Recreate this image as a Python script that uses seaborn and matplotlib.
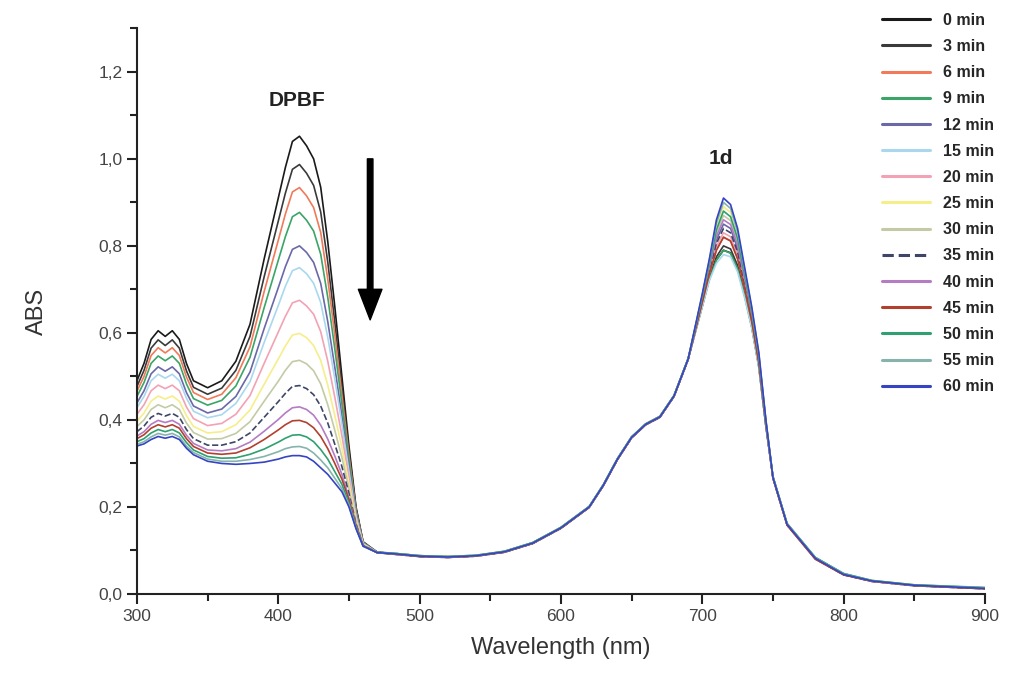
import matplotlib
matplotlib.use('Agg')
import matplotlib.pyplot as plt
from matplotlib.ticker import MultipleLocator, FuncFormatter
import seaborn as sns
import pandas as pd

# wavelength grid (nm), denser around the two bands
wavelength = [300, 305, 310, 315, 320, 325, 330, 335, 340, 350, 360, 370, 380, 390, 400,
              405, 410, 415, 420, 425, 430, 435, 440, 445, 450, 455, 460, 470,
              480, 500, 520, 540, 560, 580, 600, 620, 630, 640, 650, 660, 670, 680, 690,
              700, 705, 710, 715, 720, 725, 730, 735, 740, 745,
              750, 760, 780, 800, 820, 850, 900]

# absorbance, one list per irradiation time
abs_0min = [0.49, 0.53, 0.585, 0.605, 0.592, 0.605, 0.585, 0.53, 0.49, 0.474, 0.49, 0.535, 0.62, 0.77, 0.91,
            0.98, 1.04, 1.052, 1.03, 1.0, 0.935, 0.81, 0.66, 0.5, 0.34, 0.2, 0.12, 0.096,
            0.093, 0.087, 0.085, 0.088, 0.097, 0.117, 0.152, 0.2, 0.25, 0.31, 0.36, 0.39, 0.407, 0.455, 0.54,
            0.662, 0.724, 0.768, 0.79, 0.784, 0.748, 0.685, 0.614, 0.523, 0.386,
            0.268, 0.16, 0.082, 0.045, 0.03, 0.02, 0.013]
abs_3min = [0.477, 0.514, 0.565, 0.584, 0.571, 0.584, 0.565, 0.513, 0.475, 0.459, 0.473, 0.514, 0.592, 0.729, 0.857,
            0.921, 0.976, 0.987, 0.967, 0.939, 0.878, 0.763, 0.624, 0.477, 0.328, 0.196, 0.119, 0.096,
            0.094, 0.088, 0.086, 0.088, 0.098, 0.118, 0.153, 0.201, 0.251, 0.311, 0.361, 0.391, 0.408, 0.456, 0.541,
            0.665, 0.728, 0.775, 0.80, 0.793, 0.755, 0.691, 0.618, 0.525, 0.387,
            0.268, 0.16, 0.082, 0.045, 0.03, 0.02, 0.013]
abs_6min = [0.466, 0.5, 0.548, 0.566, 0.554, 0.566, 0.548, 0.499, 0.463, 0.447, 0.459, 0.497, 0.568, 0.695, 0.813,
            0.873, 0.924, 0.934, 0.915, 0.888, 0.831, 0.724, 0.595, 0.457, 0.317, 0.192, 0.118, 0.096,
            0.093, 0.086, 0.084, 0.087, 0.096, 0.116, 0.151, 0.199, 0.249, 0.309, 0.359, 0.389, 0.406, 0.454, 0.539,
            0.669, 0.735, 0.791, 0.82, 0.812, 0.771, 0.702, 0.625, 0.531, 0.39,
            0.266, 0.158, 0.08, 0.044, 0.029, 0.019, 0.012]
abs_9min = [0.454, 0.486, 0.53, 0.547, 0.536, 0.547, 0.53, 0.483, 0.449, 0.434, 0.445, 0.478, 0.544, 0.658, 0.767,
            0.821, 0.867, 0.877, 0.859, 0.834, 0.781, 0.682, 0.563, 0.437, 0.307, 0.188, 0.118, 0.096,
            0.094, 0.088, 0.086, 0.089, 0.098, 0.118, 0.153, 0.201, 0.251, 0.311, 0.361, 0.391, 0.408, 0.456, 0.541,
            0.661, 0.723, 0.767, 0.79, 0.783, 0.747, 0.686, 0.613, 0.522, 0.386,
            0.27, 0.162, 0.084, 0.047, 0.031, 0.021, 0.014]
abs_12min = [0.439, 0.467, 0.506, 0.522, 0.512, 0.522, 0.506, 0.463, 0.432, 0.416, 0.425, 0.454, 0.51, 0.61, 0.704,
             0.752, 0.792, 0.8, 0.785, 0.762, 0.714, 0.626, 0.521, 0.409, 0.292, 0.183, 0.117, 0.096,
             0.093, 0.087, 0.085, 0.088, 0.097, 0.117, 0.152, 0.2, 0.25, 0.31, 0.36, 0.39, 0.407, 0.455, 0.54,
             0.676, 0.747, 0.814, 0.85, 0.84, 0.794, 0.718, 0.637, 0.539, 0.393,
             0.268, 0.16, 0.082, 0.045, 0.03, 0.02, 0.013]
abs_15min = [0.428, 0.454, 0.49, 0.505, 0.496, 0.505, 0.49, 0.45, 0.42, 0.405, 0.412, 0.438, 0.488, 0.578, 0.663,
             0.707, 0.743, 0.75, 0.736, 0.714, 0.67, 0.59, 0.494, 0.391, 0.282, 0.179, 0.116, 0.095,
             0.092, 0.086, 0.084, 0.087, 0.096, 0.116, 0.151, 0.199, 0.249, 0.309, 0.359, 0.389, 0.406, 0.454, 0.539,
             0.66, 0.72, 0.76, 0.78, 0.775, 0.74, 0.68, 0.61, 0.52, 0.385,
             0.267, 0.159, 0.081, 0.044, 0.029, 0.019, 0.012]
abs_20min = [0.413, 0.435, 0.467, 0.48, 0.472, 0.48, 0.467, 0.43, 0.403, 0.387, 0.392, 0.413, 0.456, 0.53, 0.602,
             0.638, 0.669, 0.675, 0.662, 0.643, 0.603, 0.535, 0.452, 0.364, 0.268, 0.174, 0.115, 0.095,
             0.093, 0.087, 0.085, 0.088, 0.097, 0.117, 0.152, 0.2, 0.25, 0.31, 0.36, 0.39, 0.407, 0.455, 0.54,
             0.672, 0.739, 0.799, 0.83, 0.821, 0.779, 0.707, 0.629, 0.533, 0.391,
             0.268, 0.16, 0.082, 0.045, 0.03, 0.02, 0.013]
abs_25min = [0.397, 0.416, 0.443, 0.455, 0.448, 0.455, 0.443, 0.41, 0.385, 0.37, 0.373, 0.389, 0.423, 0.482, 0.54,
             0.57, 0.595, 0.599, 0.589, 0.571, 0.537, 0.48, 0.41, 0.336, 0.254, 0.169, 0.114, 0.095,
             0.094, 0.088, 0.086, 0.089, 0.098, 0.118, 0.153, 0.201, 0.251, 0.311, 0.361, 0.391, 0.408, 0.456, 0.541,
             0.685, 0.762, 0.845, 0.89, 0.877, 0.825, 0.739, 0.652, 0.55, 0.398,
             0.269, 0.161, 0.083, 0.046, 0.031, 0.021, 0.014]
abs_30min = [0.385, 0.4, 0.424, 0.435, 0.428, 0.435, 0.424, 0.393, 0.371, 0.356, 0.357, 0.369, 0.396, 0.443, 0.489,
             0.514, 0.534, 0.537, 0.529, 0.513, 0.483, 0.435, 0.376, 0.314, 0.242, 0.165, 0.113, 0.095,
             0.093, 0.087, 0.085, 0.088, 0.097, 0.117, 0.152, 0.2, 0.25, 0.31, 0.36, 0.39, 0.407, 0.455, 0.54,
             0.681, 0.755, 0.829, 0.87, 0.858, 0.809, 0.728, 0.645, 0.544, 0.395,
             0.268, 0.16, 0.082, 0.045, 0.03, 0.02, 0.013]
abs_35min = [0.373, 0.386, 0.406, 0.415, 0.409, 0.415, 0.406, 0.378, 0.357, 0.342, 0.342, 0.35, 0.37, 0.406, 0.442,
             0.461, 0.477, 0.479, 0.472, 0.458, 0.432, 0.393, 0.344, 0.293, 0.231, 0.161, 0.112, 0.095,
             0.092, 0.086, 0.084, 0.087, 0.096, 0.116, 0.151, 0.199, 0.249, 0.309, 0.359, 0.389, 0.406, 0.454, 0.539,
             0.674, 0.743, 0.806, 0.84, 0.83, 0.786, 0.712, 0.633, 0.536, 0.392,
             0.267, 0.159, 0.081, 0.044, 0.029, 0.019, 0.012]
abs_40min = [0.363, 0.373, 0.39, 0.399, 0.394, 0.399, 0.39, 0.365, 0.346, 0.331, 0.329, 0.334, 0.349, 0.374, 0.401,
             0.416, 0.428, 0.43, 0.424, 0.411, 0.388, 0.356, 0.317, 0.275, 0.221, 0.158, 0.111, 0.095,
             0.093, 0.087, 0.085, 0.088, 0.097, 0.117, 0.152, 0.2, 0.25, 0.31, 0.36, 0.39, 0.407, 0.455, 0.54,
             0.678, 0.751, 0.822, 0.86, 0.849, 0.802, 0.723, 0.641, 0.542, 0.394,
             0.268, 0.16, 0.082, 0.045, 0.03, 0.02, 0.013]
abs_45min = [0.357, 0.366, 0.381, 0.389, 0.384, 0.389, 0.381, 0.357, 0.339, 0.324, 0.321, 0.324, 0.336, 0.355, 0.377,
             0.389, 0.398, 0.399, 0.394, 0.382, 0.362, 0.334, 0.3, 0.264, 0.216, 0.156, 0.111, 0.095,
             0.092, 0.086, 0.084, 0.087, 0.096, 0.116, 0.151, 0.199, 0.249, 0.309, 0.359, 0.389, 0.406, 0.454, 0.539,
             0.67, 0.736, 0.79, 0.82, 0.811, 0.77, 0.702, 0.626, 0.53, 0.39,
             0.266, 0.158, 0.08, 0.044, 0.029, 0.019, 0.012]
abs_50min = [0.35, 0.357, 0.37, 0.378, 0.373, 0.378, 0.37, 0.348, 0.331, 0.316, 0.312, 0.313, 0.321, 0.333, 0.349,
             0.358, 0.365, 0.366, 0.361, 0.35, 0.332, 0.31, 0.281, 0.252, 0.209, 0.153, 0.11, 0.095,
             0.094, 0.088, 0.086, 0.089, 0.098, 0.118, 0.153, 0.201, 0.251, 0.311, 0.361, 0.391, 0.408, 0.456, 0.541,
             0.683, 0.758, 0.837, 0.88, 0.867, 0.817, 0.734, 0.648, 0.547, 0.397,
             0.27, 0.162, 0.084, 0.047, 0.031, 0.021, 0.015]
abs_55min = [0.344, 0.35, 0.361, 0.369, 0.365, 0.369, 0.361, 0.34, 0.325, 0.31, 0.305, 0.305, 0.309, 0.316, 0.327,
             0.334, 0.338, 0.339, 0.335, 0.324, 0.308, 0.29, 0.266, 0.242, 0.204, 0.151, 0.11, 0.095,
             0.093, 0.087, 0.085, 0.088, 0.097, 0.117, 0.152, 0.2, 0.25, 0.31, 0.36, 0.39, 0.407, 0.455, 0.54,
             0.688, 0.766, 0.852, 0.9, 0.886, 0.832, 0.745, 0.656, 0.552, 0.399,
             0.269, 0.161, 0.083, 0.046, 0.03, 0.02, 0.014]
abs_60min = [0.34, 0.345, 0.355, 0.362, 0.358, 0.362, 0.355, 0.335, 0.32, 0.305, 0.3, 0.298, 0.3, 0.303, 0.31,
             0.315, 0.318, 0.318, 0.315, 0.305, 0.29, 0.275, 0.255, 0.235, 0.2, 0.15, 0.11, 0.095,
             0.093, 0.087, 0.085, 0.088, 0.097, 0.117, 0.152, 0.2, 0.25, 0.31, 0.36, 0.39, 0.407, 0.455, 0.54,
             0.69, 0.77, 0.86, 0.91, 0.895, 0.84, 0.75, 0.66, 0.555, 0.40,
             0.268, 0.16, 0.082, 0.045, 0.03, 0.02, 0.013]

time_labels = ['0 min', '3 min', '6 min', '9 min', '12 min', '15 min', '20 min', '25 min',
               '30 min', '35 min', '40 min', '45 min', '50 min', '55 min', '60 min']
series = [abs_0min, abs_3min, abs_6min, abs_9min, abs_12min, abs_15min, abs_20min, abs_25min,
          abs_30min, abs_35min, abs_40min, abs_45min, abs_50min, abs_55min, abs_60min]
line_colors = ['#1a1a1a', '#3a3a3a', '#f07a5a', '#3aa566', '#6a68a8', '#a9d8ee', '#f2a2b4', '#f6ee8a',
               '#c3cba6', '#3e4668', '#b57cc4', '#b2402f', '#2fa070', '#86b4ac', '#3444c4']

sns.set_style('ticks')
plt.rcParams['font.family'] = ['Liberation Sans', 'DejaVu Sans']

fig = plt.figure(figsize=(10.1, 6.84), dpi=100)
ax = fig.add_axes([0.1356, 0.1316, 0.8396, 0.827])

for label, vals, col in zip(time_labels, series, line_colors):
    df = pd.DataFrame({'wl': wavelength, 'abs': vals})
    ls = '--' if label == '35 min' else '-'
    sns.lineplot(data=df, x='wl', y='abs', ax=ax, color=col, lw=1.2, linestyle=ls,
                 label=label, sort=False, estimator=None)

ax.set_xlim(300, 900)
ax.set_ylim(0, 1.3)
ax.xaxis.set_major_locator(MultipleLocator(100))
ax.xaxis.set_minor_locator(MultipleLocator(50))
ax.yaxis.set_major_locator(MultipleLocator(0.2))
ax.yaxis.set_minor_locator(MultipleLocator(0.1))
ax.yaxis.set_major_formatter(FuncFormatter(lambda v, p: f"{v:.1f}".replace('.', ',')))
ax.tick_params(which='major', direction='out', length=7, width=1.5, labelsize=12.5, colors='#222222')
ax.tick_params(which='minor', direction='out', length=5, width=1.5, colors='#222222')
for lab in ax.get_xticklabels() + ax.get_yticklabels():
    lab.set_color('#444444')
sns.despine(ax=ax)
for s in ['left', 'bottom']:
    ax.spines[s].set_linewidth(1.5)
    ax.spines[s].set_color('#222222')

ax.set_xlabel('Wavelength (nm)', fontsize=17, color='#333333', labelpad=10)
ax.set_ylabel('ABS', fontsize=17, color='#333333', labelpad=36)

ax.text(413, 1.135, 'DPBF', fontsize=15, fontweight='bold', ha='center', va='center', color='#222222')
ax.text(713, 1.0, '1d', fontsize=15, fontweight='bold', ha='center', va='center', color='#222222')
ax.annotate('', xy=(465, 0.63), xytext=(465, 1.0),
            arrowprops=dict(width=4, headwidth=17, headlength=22, facecolor='black', edgecolor='black', shrink=0))

leg = ax.legend(loc='upper right', bbox_to_anchor=(0.997, 1.0), bbox_transform=fig.transFigure,
                frameon=False, prop={'weight': 'bold', 'size': 11.5}, handlelength=3.0,
                handletextpad=0.8, labelspacing=0.7, borderpad=0.3)
for h in leg.get_lines():
    h.set_linewidth(2.2)

plt.savefig('out.png', dpi=100)
plt.close()
